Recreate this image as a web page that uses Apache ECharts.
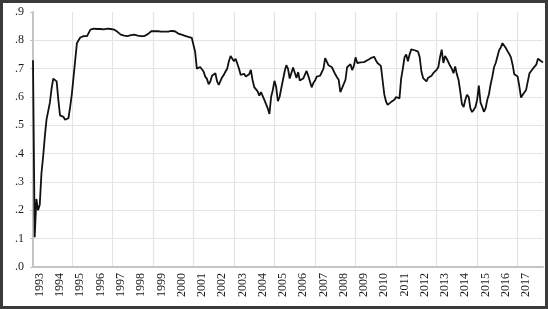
<!DOCTYPE html>
<html>
<head>
<meta charset="utf-8">
<script src="https://cdn.jsdelivr.net/npm/echarts@6/dist/echarts.min.js"></script>
<style>
  html, body { margin: 0; padding: 0; background: #ffffff; }
  #chart { width: 548px; height: 309px; }
</style>
</head>
<body>
<div id="chart"></div>
<script>
// Monthly observations, 1993-01 onward (303 months)
const startYear = 1993;
const seriesValues = [
  0.73, 0.105, 0.24, 0.20, 0.22, 0.33, 0.39, 0.46, 0.52, 0.55,
  0.58, 0.63, 0.665, 0.668, 0.655, 0.59, 0.535, 0.54, 0.53, 0.52,
  0.52, 0.525, 0.565, 0.61, 0.67, 0.73, 0.79, 0.80, 0.81, 0.815,
  0.815, 0.813, 0.815, 0.82, 0.838, 0.842, 0.841, 0.840, 0.840, 0.839,
  0.840, 0.840, 0.839, 0.840, 0.841, 0.840, 0.840, 0.839, 0.838, 0.836,
  0.830, 0.824, 0.820, 0.818, 0.817, 0.816, 0.815, 0.816, 0.818, 0.820,
  0.820, 0.818, 0.817, 0.816, 0.815, 0.813, 0.815, 0.818, 0.822, 0.827,
  0.832, 0.834, 0.832, 0.831, 0.832, 0.831, 0.831, 0.832, 0.831, 0.832,
  0.831, 0.832, 0.833, 0.834, 0.832, 0.826, 0.824, 0.822, 0.820, 0.818,
  0.816, 0.815, 0.812, 0.811, 0.809, 0.808, 0.76, 0.70, 0.705, 0.706,
  0.705, 0.69, 0.672, 0.664, 0.645, 0.655, 0.675, 0.681, 0.684, 0.655,
  0.643, 0.649, 0.67, 0.678, 0.69, 0.70, 0.726, 0.745, 0.75, 0.726,
  0.735, 0.73, 0.70, 0.678, 0.676, 0.682, 0.672, 0.678, 0.68, 0.696,
  0.66, 0.635, 0.628, 0.62, 0.605, 0.617, 0.61, 0.59, 0.585, 0.56,
  0.54, 0.60, 0.625, 0.657, 0.635, 0.585, 0.60, 0.63, 0.66, 0.69,
  0.712, 0.70, 0.665, 0.685, 0.704, 0.70, 0.667, 0.688, 0.658, 0.66,
  0.665, 0.665, 0.692, 0.675, 0.672, 0.634, 0.649, 0.658, 0.672, 0.674,
  0.675, 0.676, 0.70, 0.737, 0.73, 0.712, 0.708, 0.705, 0.70, 0.68,
  0.67, 0.661, 0.617, 0.631, 0.637, 0.66, 0.705, 0.70, 0.716, 0.695,
  0.71, 0.74, 0.72, 0.725, 0.722, 0.723, 0.723, 0.725, 0.73, 0.735,
  0.737, 0.738, 0.742, 0.73, 0.72, 0.716, 0.71, 0.66, 0.61, 0.585,
  0.572, 0.575, 0.582, 0.584, 0.59, 0.60, 0.598, 0.595, 0.665, 0.70,
  0.74, 0.75, 0.726, 0.75, 0.768, 0.767, 0.765, 0.764, 0.76, 0.74,
  0.69, 0.667, 0.66, 0.655, 0.668, 0.672, 0.675, 0.684, 0.69, 0.696,
  0.705, 0.74, 0.767, 0.72, 0.745, 0.735, 0.73, 0.71, 0.70, 0.684,
  0.708, 0.68, 0.66, 0.62, 0.575, 0.565, 0.59, 0.608, 0.60, 0.56,
  0.547, 0.555, 0.565, 0.59, 0.64, 0.58, 0.565, 0.548, 0.56, 0.59,
  0.61, 0.645, 0.672, 0.705, 0.72, 0.722, 0.765, 0.775, 0.79, 0.784,
  0.773, 0.762, 0.752, 0.74, 0.714, 0.68, 0.676, 0.672, 0.637, 0.598,
  0.608, 0.614, 0.625, 0.655, 0.684, 0.69, 0.70, 0.695, 0.714, 0.735,
  0.728, 0.726, 0.722
];
const yearLabels = ['1993','1994','1995','1996','1997','1998','1999','2000','2001','2002',
  '2003','2004','2005','2006','2007','2008','2009','2010','2011','2012',
  '2013','2014','2015','2016','2017'];
const yTickLabels = ['.0','.1','.2','.3','.4','.5','.6','.7','.8','.9'];

const categories = [];
for (let i = 0; i < seriesValues.length; i++) {
  const y = startYear + Math.floor(i / 12);
  const m = (i % 12) + 1;
  categories.push(y + '-' + (m < 10 ? '0' + m : m));
}

const chart = echarts.init(document.getElementById('chart'), null, { renderer: 'canvas' });
const gridCol = '#e4e4e4';
const axisCol = '#c4c4c4';
const fontFam = "'Liberation Serif', 'DejaVu Serif', serif";

chart.setOption({
  animation: false,
  backgroundColor: '#ffffff',
  grid: { left: 33, right: 5, top: 12, bottom: 42, containLabel: false },
  xAxis: {
    type: 'category',
    data: categories,
    boundaryGap: false,
    axisLine: { show: true, lineStyle: { color: axisCol, width: 2 } },
    axisTick: { show: false },
    splitLine: {
      show: true,
      interval: function (index) { return index % 24 === 23; },
      lineStyle: { color: gridCol, width: 1.2 }
    },
    axisLabel: {
      show: true,
      rotate: 90,
      margin: 6,
      interval: function (index) { return index % 12 === 4; },
      formatter: function (value, index) {
        const k = Math.floor(index / 12);
        return yearLabels[k] !== undefined ? yearLabels[k] : '';
      },
      color: '#1a1a1a',
      fontFamily: fontFam,
      fontSize: 12,
      hideOverlap: false
    }
  },
  yAxis: {
    type: 'value',
    min: 0,
    max: 0.9,
    interval: 0.1,
    axisLine: { show: true, lineStyle: { color: axisCol, width: 2 } },
    axisTick: { show: true, length: 3, lineStyle: { color: axisCol, width: 1 } },
    splitLine: {
      show: true,
      lineStyle: {
        color: [gridCol, gridCol, gridCol, gridCol, gridCol, gridCol, gridCol, gridCol, gridCol, 'rgba(0,0,0,0)'],
        width: 1.2
      }
    },
    axisLabel: {
      margin: 9,
      color: '#1a1a1a',
      fontFamily: fontFam,
      fontSize: 12,
      formatter: function (v) {
        const k = Math.round(v * 10);
        return yTickLabels[k] !== undefined ? yTickLabels[k] : '';
      }
    }
  },
  series: [{
    type: 'line',
    data: seriesValues,
    showSymbol: false,
    symbol: 'none',
    lineStyle: { color: '#111111', width: 1.8 },
    z: 5
  }],
  graphic: [{
    type: 'rect',
    shape: { x: 1.5, y: 1.5, width: 545, height: 306 },
    style: { fill: 'none', stroke: '#3a3a3a', lineWidth: 3 },
    silent: true,
    z: 100
  }]
});
</script>
</body>
</html>
